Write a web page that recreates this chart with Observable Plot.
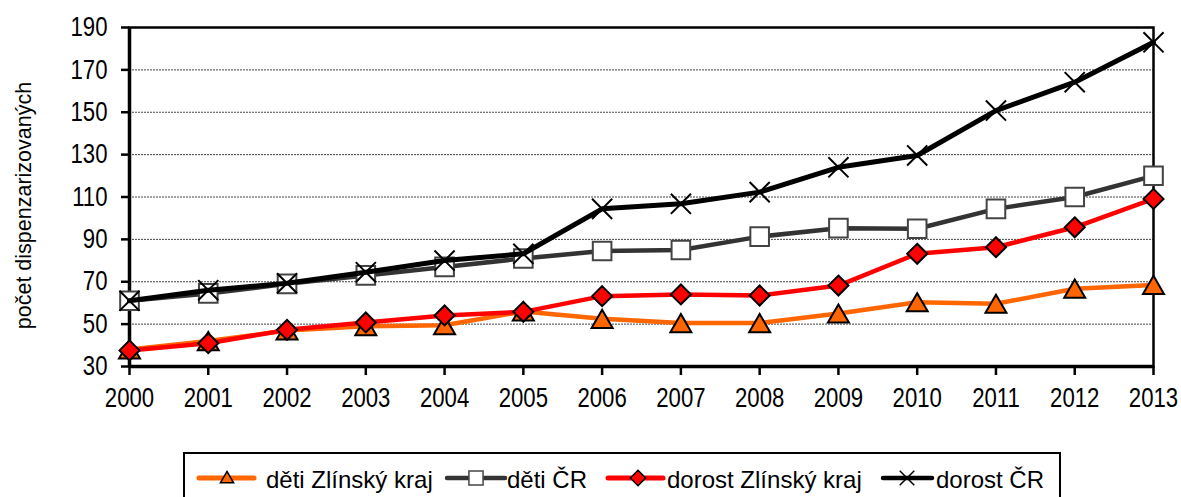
<!DOCTYPE html>
<html>
<head>
<meta charset="utf-8">
<script src="https://cdn.jsdelivr.net/npm/d3@7"></script>
<script src="https://cdn.jsdelivr.net/npm/@observablehq/plot@0.6"></script>
<style>
  body { margin: 0; background: #fff; }
  #wrap { position: relative; width: 1181px; height: 497px; overflow: hidden; background: #fff;
    font-family: "Liberation Sans", Arial, sans-serif; }
  #legend { position: absolute; left: 0; top: 445px; }
</style>
</head>
<body>
<div id="wrap">
  <div id="chart"></div>
  <svg id="legend" width="1181" height="52"></svg>
</div>
<script>
const years = [2000, 2001, 2002, 2003, 2004, 2005, 2006, 2007, 2008, 2009, 2010, 2011, 2012, 2013];
const detiZlin   = [38, 42, 47, 49, 49.5, 56, 52.5, 50.5, 50.5, 55, 60.3, 59.6, 66.7, 68.5];
const detiCR     = [61, 64.5, 69, 73, 77, 81, 84.5, 85, 91.3, 95.3, 95, 104.4, 110, 120];
const dorostZlin = [37.6, 41, 47.3, 50.8, 54.1, 55.8, 63.2, 64, 63.5, 68.2, 83.2, 86.3, 95.7, 109.1];
const dorostCR   = [61, 66, 69.3, 74.5, 80, 83.2, 104.4, 106.8, 112.3, 124, 129.6, 150.8, 164.2, 183];
const seriesNames = ["děti Zlínský kraj", "děti ČR", "dorost Zlínský kraj", "dorost ČR"];
const yTicks = [30, 50, 70, 90, 110, 130, 150, 170, 190];
const gridTicks = [50, 70, 90, 110, 130, 150, 170];
const yLabel = "počet dispenzarizovaných";

const toRows = (vals, name) => years.map((y, i) => ({year: y, value: vals[i], series: name}));
const sDZ = toRows(detiZlin, seriesNames[0]);
const sDC = toRows(detiCR, seriesNames[1]);
const sRZ = toRows(dorostZlin, seriesNames[2]);
const sRC = toRows(dorostCR, seriesNames[3]);

const orange = "#FF6600", red = "#FF0000", gray = "#333333";

const chart = Plot.plot({
  width: 1181,
  height: 445,
  marginLeft: 129,
  marginRight: 28,
  marginTop: 27,
  marginBottom: 79,
  style: {fontFamily: "'Liberation Sans', Arial, sans-serif", fontSize: "27px", color: "#000", background: "#fff"},
  x: {domain: [2000, 2013]},
  y: {domain: [30, 190]},
  marks: [
    Plot.ruleY(gridTicks, {stroke: "#444", strokeWidth: 1, strokeDasharray: "2,1"}),
    Plot.frame({stroke: "#000", strokeWidth: 2.5}),
    Plot.ruleX([2000], {stroke: "#000", strokeWidth: 3.5}),
    Plot.ruleY([30], {stroke: "#000", strokeWidth: 3.5}),
    Plot.axisY({ticks: yTicks, tickSize: 8, tickPadding: 14, strokeWidth: 2.5, label: null, fontSize: 27}),
    Plot.axisX({ticks: years, tickSize: 9, tickPadding: 12, strokeWidth: 2.5, tickFormat: d => String(d), label: null, fontSize: 27}),
    Plot.text([yLabel], {frameAnchor: "left", dx: -105, dy: 8.5, rotate: -90, fontSize: 21.5, textAnchor: "middle"}),
    // děti Zlínský kraj
    Plot.line(sDZ, {x: "year", y: "value", stroke: orange, strokeWidth: 4.5}),
    Plot.dot(sDZ, {x: "year", y: "value", symbol: "triangle", r: 7.8, fill: orange, stroke: "#000", strokeWidth: 2, dy: 3}),
    // děti ČR
    Plot.line(sDC, {x: "year", y: "value", stroke: gray, strokeWidth: 4.5}),
    Plot.dot(sDC, {x: "year", y: "value", symbol: "square", r: 10.5, fill: "#fff", stroke: "#444", strokeWidth: 2}),
    // dorost Zlínský kraj
    Plot.line(sRZ, {x: "year", y: "value", stroke: red, strokeWidth: 4.5}),
    Plot.dot(sRZ, {x: "year", y: "value", symbol: "diamond2", r: 9, fill: red, stroke: "#000", strokeWidth: 2}),
    // dorost ČR
    Plot.line(sRC, {x: "year", y: "value", stroke: "#000", strokeWidth: 5}),
    Plot.dot(sRC, {x: "year", y: "value", symbol: "times", r: 9.2, stroke: "#000", strokeWidth: 2})
  ]
});
document.getElementById("chart").appendChild(chart);

// compress tick labels horizontally (narrow face look)
chart.querySelectorAll('g[aria-label="x-axis tick label"] text, g[aria-label="y-axis tick label"] text').forEach(t => {
  const len = t.getComputedTextLength();
  t.setAttribute("textLength", (len * 0.82).toFixed(2));
  t.setAttribute("lengthAdjust", "spacingAndGlyphs");
});

// Legend (below the chart SVG)
const lg = d3.select("#legend");
const top0 = 453 - 445;
lg.append("rect").attr("x", 184).attr("y", top0).attr("width", 876).attr("height", 60)
  .attr("fill", "#fff").attr("stroke", "#000").attr("stroke-width", 2);
const ly = 478 - 445;
const legendItems = [
  {name: seriesNames[0], x1: 199, x2: 254, cx: 227, tx: 266, color: orange, lw: 5, sym: d3.symbolTriangle, size: 75, fill: orange, stroke: "#000", dy: 1},
  {name: seriesNames[1], x1: 447, x2: 505, cx: 476, tx: 507, color: gray, lw: 4.5, sym: d3.symbolSquare, size: 200, fill: "#fff", stroke: "#444", dy: 0},
  {name: seriesNames[2], x1: 608, x2: 663, cx: 638, tx: 667, color: red, lw: 5, sym: d3.symbolDiamond2, size: 150, fill: red, stroke: "#000", dy: 0},
  {name: seriesNames[3], x1: 883, x2: 932, cx: 907, tx: 936, color: "#000", lw: 4.5, sym: d3.symbolTimes, size: 140, fill: "none", stroke: "#000", dy: 0}
];
legendItems.forEach(it => {
  lg.append("line").attr("x1", it.x1).attr("x2", it.x2).attr("y1", ly).attr("y2", ly)
    .attr("stroke", it.color).attr("stroke-width", it.lw).attr("stroke-linecap", "round");
  lg.append("path").attr("d", d3.symbol(it.sym, it.size)())
    .attr("transform", `translate(${it.cx},${ly + it.dy})`)
    .attr("fill", it.fill).attr("stroke", it.stroke).attr("stroke-width", 1.5);
  lg.append("text").attr("x", it.tx).attr("y", 488 - 445).text(it.name)
    .attr("font-family", "'Liberation Sans', Arial, sans-serif").attr("font-size", 24).attr("fill", "#000");
});
</script>
</body>
</html>
